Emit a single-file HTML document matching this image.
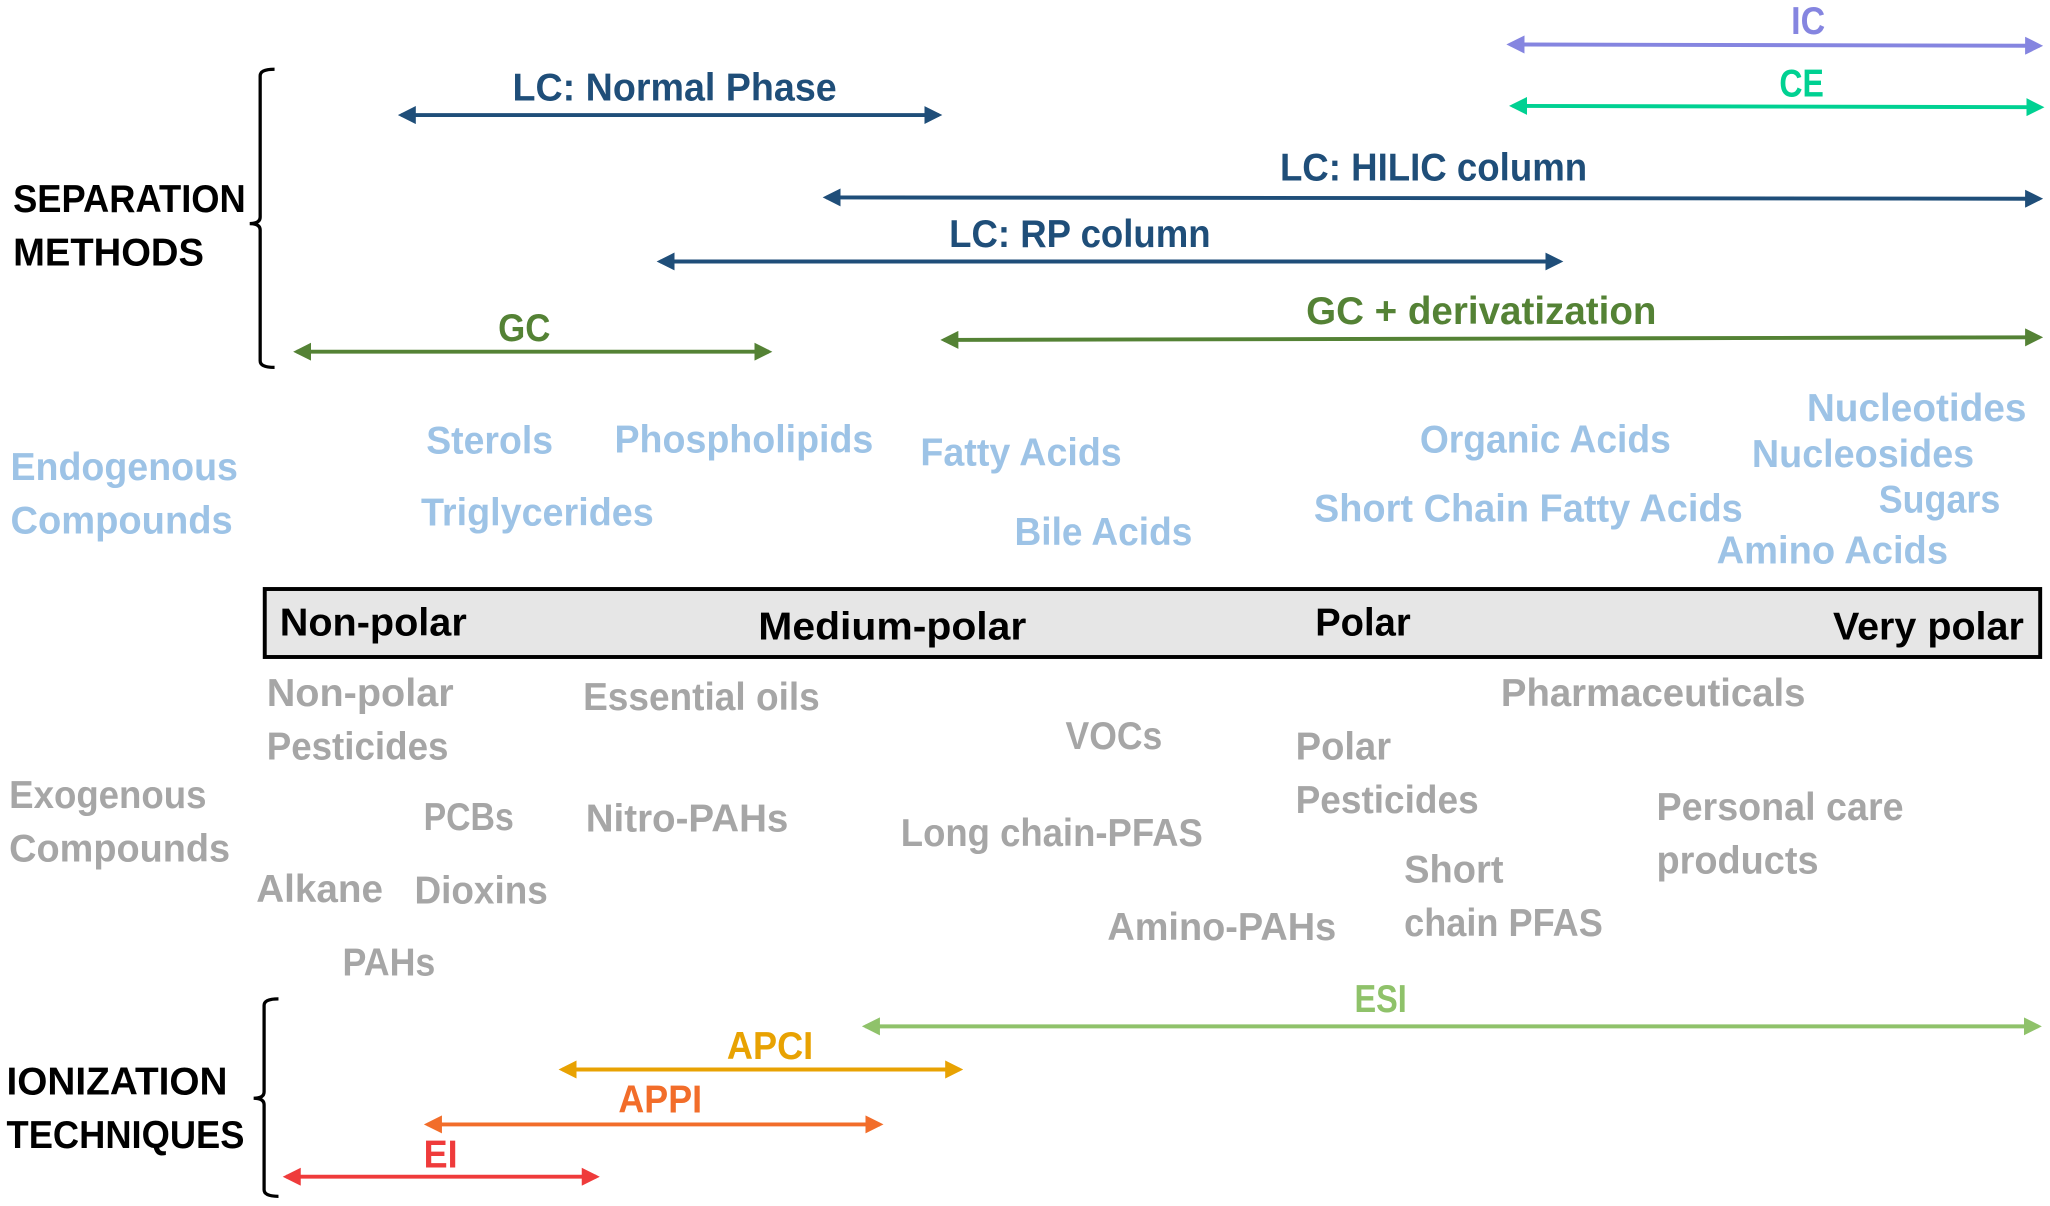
<!DOCTYPE html>
<html><head><meta charset="utf-8"><style>
html,body{margin:0;padding:0;background:#fff;}
svg{display:block;}
text{font-family:"Liberation Sans",sans-serif;font-weight:bold;}
</style></head><body>
<svg width="2050" height="1206" viewBox="0 0 1568 922.4" preserveAspectRatio="none" xmlns="http://www.w3.org/2000/svg">
<defs>
<marker id="h" viewBox="0 0 10 10" refX="8" refY="5" markerWidth="4.6" markerHeight="4.6" orient="auto-start-reverse" markerUnits="strokeWidth"><path d="M0,0 L10,5 L0,10 z" fill="context-stroke"/></marker>
</defs>
<g fill="none" stroke-width="3">
<path d="M1155,34 L1560,35" stroke="#8585e0" marker-start="url(#h)" marker-end="url(#h)"/>
<path d="M1157,81 L1561,82" stroke="#00d192" marker-start="url(#h)" marker-end="url(#h)"/>
<path d="M307,88 L718,88" stroke="#1f4e79" marker-start="url(#h)" marker-end="url(#h)"/>
<path d="M632,151 L1560,152" stroke="#1f4e79" marker-start="url(#h)" marker-end="url(#h)"/>
<path d="M505,200 L1193,200" stroke="#1f4e79" marker-start="url(#h)" marker-end="url(#h)"/>
<path d="M722,260 L1560,258" stroke="#548235" marker-start="url(#h)" marker-end="url(#h)"/>
<path d="M227,269 L588,269" stroke="#548235" marker-start="url(#h)" marker-end="url(#h)"/>
<path d="M662,785 L1559,785" stroke="#8fc26a" marker-start="url(#h)" marker-end="url(#h)"/>
<path d="M430,818 L734,818" stroke="#e8a202" marker-start="url(#h)" marker-end="url(#h)"/>
<path d="M327,860 L673,860" stroke="#f26d2a" marker-start="url(#h)" marker-end="url(#h)"/>
<path d="M219,900 L456,900" stroke="#ef3b3b" marker-start="url(#h)" marker-end="url(#h)"/>
</g>
<g fill="none" stroke="#000" stroke-width="2.5">
<path d="M210,53 Q199,53 199,58 L199,166 Q199,171 191,171 Q199,171 199,176 L199,276 Q199,281 210,281"/>
<path d="M213,764 Q202,764 202,769 L202,835 Q202,840 194,840 Q202,840 202,845 L202,910 Q202,915 213,915"/>
</g>
<rect x="202.5" y="450.5" width="1358" height="52" fill="#e6e6e6" stroke="#000" stroke-width="3"/>
<g font-size="30">
<g fill="#000">
<text x="10" y="162" textLength="178" lengthAdjust="spacingAndGlyphs">SEPARATION</text>
<text x="10" y="203" textLength="146" lengthAdjust="spacingAndGlyphs">METHODS</text>
<text x="5" y="837" textLength="169" lengthAdjust="spacingAndGlyphs">IONIZATION</text>
<text x="5" y="878" textLength="182" lengthAdjust="spacingAndGlyphs">TECHNIQUES</text>
<text x="214" y="486" textLength="143" lengthAdjust="spacingAndGlyphs">Non-polar</text>
<text x="580" y="489" textLength="205" lengthAdjust="spacingAndGlyphs">Medium-polar</text>
<text x="1006" y="486" textLength="73" lengthAdjust="spacingAndGlyphs">Polar</text>
<text x="1402" y="489" textLength="146" lengthAdjust="spacingAndGlyphs">Very polar</text>
</g>
<text x="1370" y="26" fill="#8585e0" textLength="26" lengthAdjust="spacingAndGlyphs">IC</text>
<text x="1361" y="74" fill="#00d192" textLength="34" lengthAdjust="spacingAndGlyphs">CE</text>
<g fill="#1f4e79">
<text x="392" y="77" textLength="248" lengthAdjust="spacingAndGlyphs">LC: Normal Phase</text>
<text x="979" y="138" textLength="235" lengthAdjust="spacingAndGlyphs">LC: HILIC column</text>
<text x="726" y="189" textLength="200" lengthAdjust="spacingAndGlyphs">LC: RP column</text>
</g>
<g fill="#548235">
<text x="999" y="248" textLength="268" lengthAdjust="spacingAndGlyphs">GC + derivatization</text>
<text x="381" y="261" textLength="40" lengthAdjust="spacingAndGlyphs">GC</text>
</g>
<text x="1036" y="774" fill="#8fc26a" textLength="40" lengthAdjust="spacingAndGlyphs">ESI</text>
<text x="556" y="810" fill="#e8a202" textLength="66" lengthAdjust="spacingAndGlyphs">APCI</text>
<text x="473" y="851" fill="#f26d2a" textLength="64" lengthAdjust="spacingAndGlyphs">APPI</text>
<text x="324" y="893" fill="#ef3b3b" textLength="26" lengthAdjust="spacingAndGlyphs">EI</text>
<g fill="#9dc3e6">
<text x="8" y="367" textLength="174" lengthAdjust="spacingAndGlyphs">Endogenous</text>
<text x="8" y="408" textLength="170" lengthAdjust="spacingAndGlyphs">Compounds</text>
<text x="326" y="347" textLength="97" lengthAdjust="spacingAndGlyphs">Sterols</text>
<text x="470" y="346" textLength="198" lengthAdjust="spacingAndGlyphs">Phospholipids</text>
<text x="322" y="402" textLength="178" lengthAdjust="spacingAndGlyphs">Triglycerides</text>
<text x="704" y="356" textLength="154" lengthAdjust="spacingAndGlyphs">Fatty Acids</text>
<text x="776" y="417" textLength="136" lengthAdjust="spacingAndGlyphs">Bile Acids</text>
<text x="1086" y="346" textLength="192" lengthAdjust="spacingAndGlyphs">Organic Acids</text>
<text x="1005" y="399" textLength="328" lengthAdjust="spacingAndGlyphs">Short Chain Fatty Acids</text>
<text x="1382" y="322" textLength="168" lengthAdjust="spacingAndGlyphs">Nucleotides</text>
<text x="1340" y="357" textLength="170" lengthAdjust="spacingAndGlyphs">Nucleosides</text>
<text x="1437" y="392" textLength="93" lengthAdjust="spacingAndGlyphs">Sugars</text>
<text x="1313" y="431" textLength="177" lengthAdjust="spacingAndGlyphs">Amino Acids</text>
</g>
<g fill="#a6a6a6">
<text x="204" y="540" textLength="143" lengthAdjust="spacingAndGlyphs">Non-polar</text>
<text x="204" y="581" textLength="139" lengthAdjust="spacingAndGlyphs">Pesticides</text>
<text x="446" y="543" textLength="181" lengthAdjust="spacingAndGlyphs">Essential oils</text>
<text x="815" y="573" textLength="74" lengthAdjust="spacingAndGlyphs">VOCs</text>
<text x="991" y="581" textLength="73" lengthAdjust="spacingAndGlyphs">Polar</text>
<text x="991" y="622" textLength="140" lengthAdjust="spacingAndGlyphs">Pesticides</text>
<text x="1148" y="540" textLength="233" lengthAdjust="spacingAndGlyphs">Pharmaceuticals</text>
<text x="7" y="618" textLength="151" lengthAdjust="spacingAndGlyphs">Exogenous</text>
<text x="7" y="659" textLength="169" lengthAdjust="spacingAndGlyphs">Compounds</text>
<text x="324" y="635" textLength="69" lengthAdjust="spacingAndGlyphs">PCBs</text>
<text x="448" y="636" textLength="155" lengthAdjust="spacingAndGlyphs">Nitro-PAHs</text>
<text x="689" y="647" textLength="231" lengthAdjust="spacingAndGlyphs">Long chain-PFAS</text>
<text x="1267" y="627" textLength="189" lengthAdjust="spacingAndGlyphs">Personal care</text>
<text x="1267" y="668" textLength="124" lengthAdjust="spacingAndGlyphs">products</text>
<text x="1074" y="675" textLength="76" lengthAdjust="spacingAndGlyphs">Short</text>
<text x="1074" y="716" textLength="152" lengthAdjust="spacingAndGlyphs">chain PFAS</text>
<text x="196" y="690" textLength="97" lengthAdjust="spacingAndGlyphs">Alkane</text>
<text x="317" y="691" textLength="102" lengthAdjust="spacingAndGlyphs">Dioxins</text>
<text x="847" y="719" textLength="175" lengthAdjust="spacingAndGlyphs">Amino-PAHs</text>
<text x="262" y="746" textLength="71" lengthAdjust="spacingAndGlyphs">PAHs</text>
</g>
</g>
</svg>
</body></html>
